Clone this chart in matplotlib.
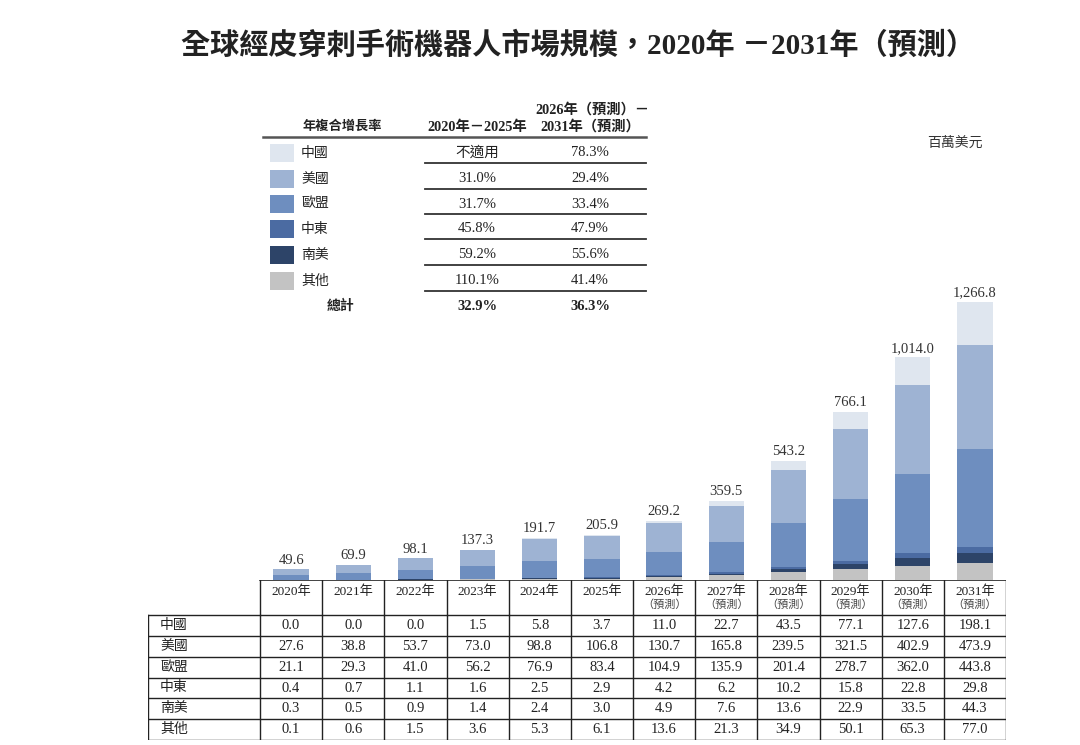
import matplotlib
matplotlib.use("Agg")
import matplotlib.pyplot as plt
import numpy as np

plt.rcParams['font.family'] = ['Liberation Serif', 'Noto Sans CJK TC', 'DejaVu Sans']

years = ['2020年', '2021年', '2022年', '2023年', '2024年', '2025年',
         '2026年', '2027年', '2028年', '2029年', '2030年', '2031年']
forecast = [False] * 6 + [True] * 6

regions = ['中國', '美國', '歐盟', '中東', '南美', '其他']
china = [0.0, 0.0, 0.0, 1.5, 5.8, 3.7, 11.0, 22.7, 43.5, 77.1, 127.6, 198.1]
usa = [27.6, 38.8, 53.7, 73.0, 98.8, 106.8, 130.7, 165.8, 239.5, 321.5, 402.9, 473.9]
eu = [21.1, 29.3, 41.0, 56.2, 76.9, 83.4, 104.9, 135.9, 201.4, 278.7, 362.0, 443.8]
mideast = [0.4, 0.7, 1.1, 1.6, 2.5, 2.9, 4.2, 6.2, 10.2, 15.8, 22.8, 29.8]
samerica = [0.3, 0.5, 0.9, 1.4, 2.4, 3.0, 4.9, 7.6, 13.6, 22.9, 33.5, 44.3]
others = [0.1, 0.6, 1.5, 3.6, 5.3, 6.1, 13.6, 21.3, 34.9, 50.1, 65.3, 77.0]
totals = [49.6, 69.9, 98.1, 137.3, 191.7, 205.9, 269.2, 359.5, 543.2, 766.1, 1014.0, 1266.8]

cagr_2020_2025 = ['不適用', '31.0%', '31.7%', '45.8%', '59.2%', '110.1%']
cagr_2026_2031 = ['78.3%', '29.4%', '33.4%', '47.9%', '55.6%', '41.4%']
cagr_total = ['32.9%', '36.3%']

colors = {'中國': '#dfe6ef', '美國': '#9eb3d3', '歐盟': '#6e8ebf',
          '中東': '#4b6ba2', '南美': '#2d4468', '其他': '#c3c3c3'}
series = {'中國': china, '美國': usa, '歐盟': eu, '中東': mideast,
          '南美': samerica, '其他': others}

W, H = 1080, 745
fig = plt.figure(figsize=(10.8, 7.45), dpi=100)


def fx(px):
    return px / W


def fy(py):
    return 1 - py / H


# title
fig.text(fx(578), fy(46), '全球經皮穿刺手術機器人市場規模，2020年 －2031年（預測）',
         ha='center', va='center', fontsize=21, fontweight='bold', color='#222222')
fig.text(fx(955), fy(143), '百萬美元', ha='center', va='center', fontsize=10, color='#333333')

# bars
ax = fig.add_axes([fx(260), fy(580), fx(1006) - fx(260), fy(280) - fy(580)])
x = np.arange(len(years))
bottom = np.zeros(len(years))
for r in ['其他', '南美', '中東', '歐盟', '美國', '中國']:
    vals = np.array(series[r])
    ax.bar(x, vals, 0.57, bottom=bottom, color=colors[r], linewidth=0)
    bottom += vals
for i, t in enumerate(totals):
    ax.text(x[i], bottom[i] + 12, f'{t:,.1f}', ha='center', va='bottom',
            fontsize=10.5, color='#333333')
ax.set_xlim(-0.5, len(years) - 0.5)
ax.set_ylim(0, 1266.8 * 300 / 278)
ax.axis('off')

# data table under the bars
tab = fig.add_axes([fx(148), fy(740), fx(1006) - fx(148), fy(580) - fy(740)])
tab.set_xlim(0, 1006 - 148)
tab.set_ylim(740, 580)
tab.axis('off')
col0 = 260 - 148
colw = (1006 - 260) / len(years)
row_y = [615, 636, 657, 678, 698, 719, 740]
lc = '#222222'
# header
tab.plot([col0, 858], [580, 580], color=lc, lw=1.2)
for i in range(len(years) + 1):
    xx = col0 + i * colw
    tab.plot([xx, xx], [580, 615], color=lc, lw=1)
for i, yl in enumerate(years):
    cx = col0 + (i + 0.5) * colw
    tab.text(cx, 592, yl, ha='center', va='center', fontsize=9.5, color='#222222')
    if forecast[i]:
        tab.text(cx, 605, '（預測）', ha='center', va='center', fontsize=8, color='#444444')
# body
for yy in row_y:
    tab.plot([0, 858], [yy, yy], color=lc, lw=1)
for i in range(len(years) + 2):
    xx = 0 if i == 0 else col0 + (i - 1) * colw
    tab.plot([xx, xx], [615, 740], color=lc, lw=1)
for j, r in enumerate(regions):
    cy = (row_y[j] + row_y[j + 1]) / 2
    tab.text(12, cy, r, ha='left', va='center', fontsize=10, color='#222222')
    for i, v in enumerate(series[r]):
        tab.text(col0 + (i + 0.5) * colw, cy, f'{v:.1f}', ha='center', va='center',
                 fontsize=10.5, color='#222222')

# CAGR legend table
leg = fig.add_axes([0, 0, 1, 1])
leg.set_xlim(0, W)
leg.set_ylim(H, 0)
leg.axis('off')
leg.text(342, 127, '年複合增長率', ha='center', va='center', fontsize=9.5,
         fontweight='bold', color='#222222')
leg.text(477, 127, '2020年－2025年', ha='center', va='center', fontsize=10.3,
         fontweight='bold', color='#222222')
leg.text(592, 110, '2026年（預測）－', ha='center', va='center', fontsize=10.3,
         fontweight='bold', color='#222222')
leg.text(590, 127, '2031年（預測）', ha='center', va='center', fontsize=10.3,
         fontweight='bold', color='#222222')
leg.plot([263, 646], [137, 137], color='#555555', lw=1.8)
row_c = [153, 179, 204, 229, 255, 281]
for j, r in enumerate(regions):
    cy = row_c[j]
    leg.add_patch(plt.Rectangle((270, cy - 9), 24, 18, color=colors[r], lw=0))
    leg.text(301, cy, r, ha='left', va='center', fontsize=10, color='#222222')
    leg.text(477, cy, cagr_2020_2025[j], ha='center', va='center', fontsize=10.5, color='#222222')
    leg.text(590, cy, cagr_2026_2031[j], ha='center', va='center', fontsize=10.5, color='#222222')
    leg.plot([425, 646], [cy + 9.5, cy + 9.5], color='#333333', lw=1.3)
leg.text(341, 306, '總計', ha='center', va='center', fontsize=10, fontweight='bold', color='#222222')
leg.text(477, 306, cagr_total[0], ha='center', va='center', fontsize=10.5,
         fontweight='bold', color='#222222')
leg.text(590, 306, cagr_total[1], ha='center', va='center', fontsize=10.5,
         fontweight='bold', color='#222222')

fig.savefig('out.png', dpi=100)
